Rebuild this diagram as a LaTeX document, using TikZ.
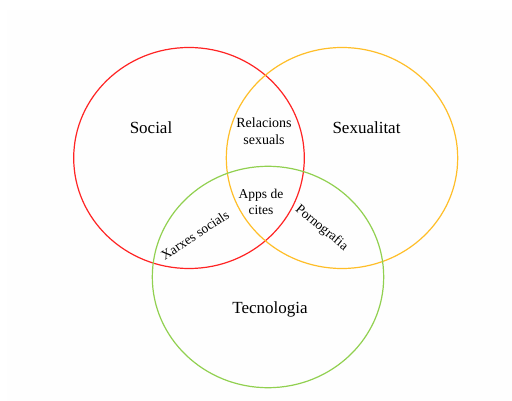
\documentclass[tikz,border=0pt]{standalone}
\usepackage{fontspec}
\setmainfont{Liberation Serif}
\usepackage{xcolor}
\definecolor{socred}{RGB}{255,35,35}
\definecolor{sexorange}{RGB}{255,190,40}
\definecolor{tecgreen}{RGB}{145,208,80}
\tikzset{
  big/.style={font=\fontsize{17}{20}\selectfont},
  small/.style={font=\fontsize{13.5}{15.5}\selectfont, align=center, inner sep=0pt}
}

\begin{document}
\begin{tikzpicture}[x=1pt,y=-1pt]
\useasboundingbox (0,0) rectangle (512,401);
\fill[black!0.5] (7,10) rectangle (512,401);
% the three sets
\draw[socred, line width=1.2pt] (189,158) ellipse [x radius=115.3, y radius=110.5];
\draw[sexorange, line width=1.2pt] (342,158) ellipse [x radius=115.7, y radius=110.5];
\draw[tecgreen, line width=1.2pt] (268,277) ellipse [x radius=115.7, y radius=110.7];
% labels
\node[big] (social) at (151,128) {Social};
\node[big] (sexualitat) at (366.5,128) {Sexualitat};
\node[big] (tecnologia) at (270,309) {Tecnologia};
\node[small, font=\fontsize{14}{17}\selectfont] (relacions) at (264,131) {Relacions\\sexuals};
\node[small] (apps) at (261,202) {Apps de\\cites};
\node[small, rotate=33.7] (xarxes) at (195,235) {Xarxes socials};
\node[small, rotate=-39.6] (porno) at (321.5,228) {Pornografia};
\end{tikzpicture}
\end{document}
